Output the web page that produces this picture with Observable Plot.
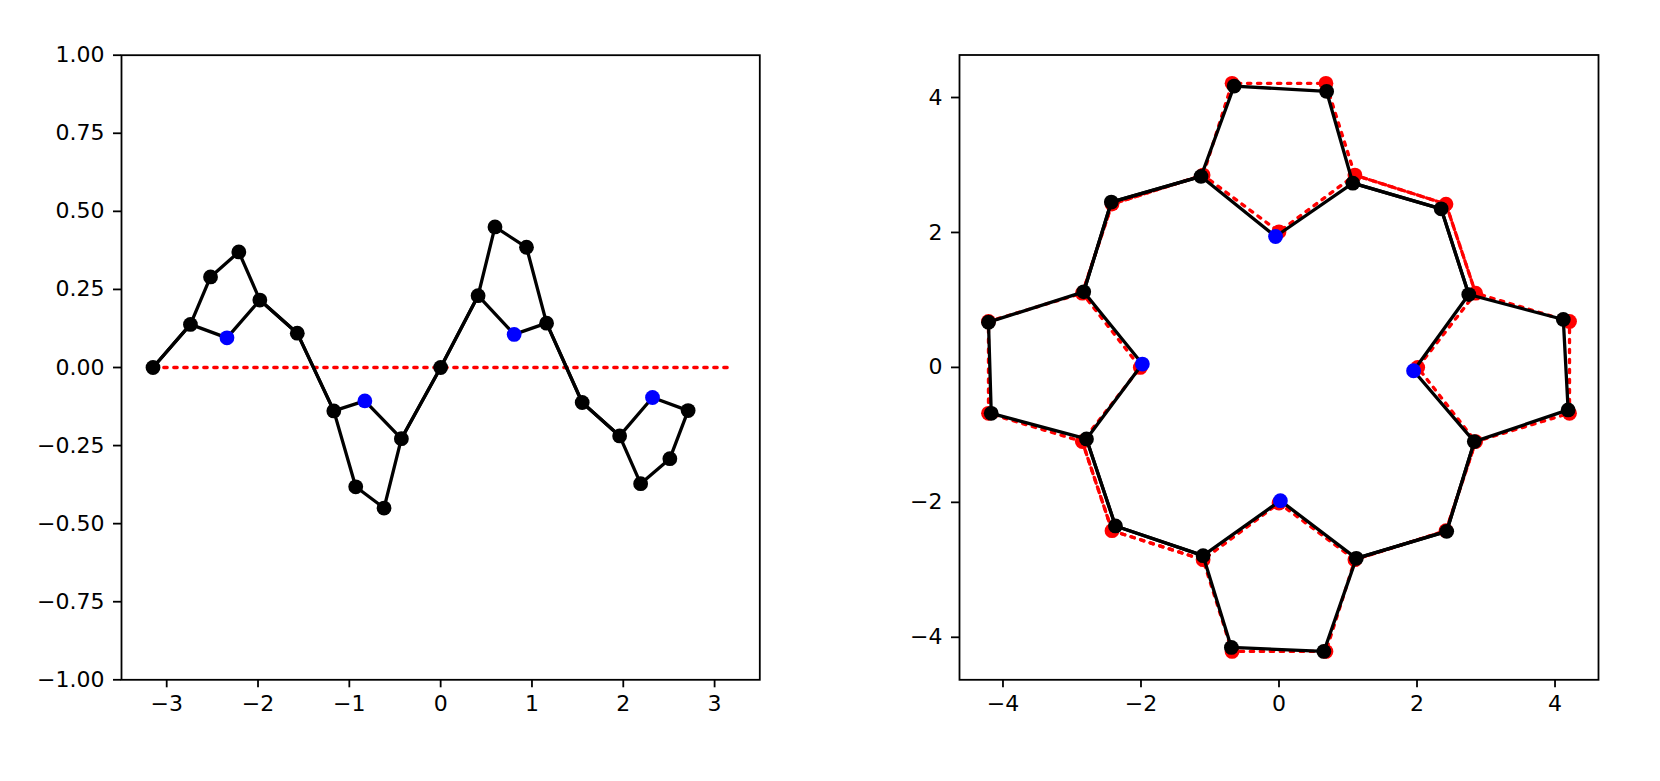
<!DOCTYPE html>
<html>
<head>
<meta charset="utf-8">
<script src="https://cdn.jsdelivr.net/npm/d3@7"></script>
<script src="https://cdn.jsdelivr.net/npm/@observablehq/plot@0.6"></script>
<style>
  html, body { margin: 0; padding: 0; background: #ffffff; }
  #wrap { position: relative; width: 1660px; height: 781px; overflow: hidden; background: #fff; }
  #left, #right { position: absolute; top: 0; }
  #left { left: 0px; }
  #right { left: 830px; }
  svg { font-family: "DejaVu Sans", sans-serif; }
</style>
</head>
<body>
<div id="wrap"><div id="left"></div><div id="right"></div></div>
<script>
// ---------- Left panel data (angle vs displacement) ----------
// outer chain order per ring: meso, C-alpha, C-beta, C-beta, C-alpha
const leftOuterX = [-3.15, -2.74, -2.52, -2.21, -1.98, -1.57, -1.17, -0.93, -0.62, -0.43, 0.0, 0.41, 0.595, 0.94, 1.16, 1.55, 1.96, 2.19, 2.51, 2.71];
const leftOuterY = [0.0, 0.138, 0.29, 0.37, 0.216, 0.11, -0.139, -0.382, -0.45, -0.228, 0.0, 0.23, 0.45, 0.385, 0.142, -0.112, -0.219, -0.372, -0.292, -0.138];
const leftNX = [-2.34, -0.83, 0.805, 2.32];
const leftNY = [0.095, -0.107, 0.106, -0.096];
const leftRefX = [-3.1416, 3.1416];
const leftRefY = [0, 0];
const leftXTicks = [-3, -2, -1, 0, 1, 2, 3];
const leftYTicks = [-1, -0.75, -0.5, -0.25, 0, 0.25, 0.5, 0.75, 1];

// ---------- Right panel data (x, y positions) ----------
// reference (red)
const refOuterX = [-2.42, -1.10, -0.68, 0.68, 1.10,   2.42, 2.85, 4.21, 4.21, 2.85,   2.42, 1.10, 0.68, -0.68, -1.10,   -2.42, -2.85, -4.21, -4.21, -2.85];
const refOuterY = [-2.42, -2.85, -4.21, -4.21, -2.85,  -2.42, -1.10, -0.68, 0.68, 1.10,   2.42, 2.85, 4.21, 4.21, 2.85,   2.42, 1.10, 0.68, -0.68, -1.10];
const refNX = [0.0, 2.01, 0.0, -2.01];
const refNY = [-2.01, 0.0, 2.01, 0.0];
// deformed (black) and nitrogens (blue)
const defOuterX = [-2.37, -1.10, -0.69, 0.65, 1.12,   2.43, 2.83, 4.19, 4.12, 2.75,   2.35, 1.07, 0.69, -0.65, -1.13,   -2.43, -2.83, -4.21, -4.17, -2.79];
const defOuterY = [-2.35, -2.79, -4.15, -4.21, -2.83,  -2.43, -1.10, -0.63, 0.71, 1.08,   2.35, 2.73, 4.09, 4.17, 2.83,   2.45, 1.12, 0.67, -0.68, -1.06];
const defNX = [0.02, 1.95, -0.05, -1.98];
const defNY = [-1.975, -0.05, 1.94, 0.05];
const rightTicks = [-4, -2, 0, 2, 4];

// ---------- helpers ----------
function pts(xs, ys) { return xs.map((x, i) => ({x, y: ys[i]})); }
function innerPath(outer, n, closed) {
  const p = [];
  for (let k = 0; k < n.length; k++) {
    p.push(outer[5 * k], outer[5 * k + 1], n[k], outer[5 * k + 4]);
  }
  if (closed) p.push(outer[0]);
  return p;
}
function outerPath(outer, closed) {
  return closed ? outer.concat([outer[0]]) : outer.slice();
}

const LW = 3.3, R = 7.4, DASH = "3.4,6.6";
const fmtInt = d3.format("d");
const fmt2 = d3.format(".2f");

function axes(xTicks, yTicks, xFmt, yFmt) {
  return [
    Plot.axisX({ticks: xTicks, tickFormat: xFmt, tickSize: 8, tickPadding: 8, strokeWidth: 1.8, label: null}),
    Plot.axisY({ticks: yTicks, tickFormat: yFmt, tickSize: 8, tickPadding: 9, strokeWidth: 1.8, label: null}),
    Plot.frame({stroke: "black", strokeWidth: 1.8})
  ];
}

const style = {fontSize: "22px", fontFamily: "'DejaVu Sans', sans-serif", color: "black", background: "white", overflow: "visible"};

// ---------- Left plot ----------
const lo = pts(leftOuterX, leftOuterY);
const ln = pts(leftNX, leftNY);
const leftPlot = Plot.plot({
  width: 830, height: 781,
  marginLeft: 121, marginRight: 70.7, marginTop: 54.7, marginBottom: 101.7,
  x: {domain: [-3.495, 3.495]},
  y: {domain: [-1, 1]},
  style,
  marks: [
    Plot.line(pts(leftRefX, leftRefY), {x: "x", y: "y", stroke: "red", strokeWidth: LW, strokeDasharray: DASH}),
    Plot.line(outerPath(lo, false), {x: "x", y: "y", stroke: "black", strokeWidth: LW, strokeLinejoin: "round"}),
    Plot.line(innerPath(lo, ln, false), {x: "x", y: "y", stroke: "black", strokeWidth: LW, strokeLinejoin: "round"}),
    Plot.dot(lo, {x: "x", y: "y", r: R, fill: "black", stroke: "none"}),
    Plot.dot(ln, {x: "x", y: "y", r: R, fill: "blue", stroke: "none"}),
    ...axes(leftXTicks, leftYTicks, fmtInt, fmt2)
  ]
});
document.getElementById("left").appendChild(leftPlot);

// ---------- Right plot ----------
const ro = pts(refOuterX, refOuterY);
const rn = pts(refNX, refNY);
const dO = pts(defOuterX, defOuterY);
const dn = pts(defNX, defNY);
const rightPlot = Plot.plot({
  width: 830, height: 781,
  marginLeft: 129, marginRight: 62, marginTop: 54.5, marginBottom: 101.7,
  x: {domain: [-4.63, 4.63]},
  y: {domain: [-4.63, 4.63]},
  style,
  marks: [
    Plot.line(outerPath(ro, true), {x: "x", y: "y", stroke: "red", strokeWidth: LW, strokeDasharray: DASH}),
    Plot.line(innerPath(ro, rn, true), {x: "x", y: "y", stroke: "red", strokeWidth: LW, strokeDasharray: DASH}),
    Plot.dot(ro.concat(rn), {x: "x", y: "y", r: R, fill: "red", stroke: "none"}),
    Plot.line(outerPath(dO, true), {x: "x", y: "y", stroke: "black", strokeWidth: LW, strokeLinejoin: "round"}),
    Plot.line(innerPath(dO, dn, true), {x: "x", y: "y", stroke: "black", strokeWidth: LW, strokeLinejoin: "round"}),
    Plot.dot(dO, {x: "x", y: "y", r: R, fill: "black", stroke: "none"}),
    Plot.dot(dn, {x: "x", y: "y", r: R, fill: "blue", stroke: "none"}),
    ...axes(rightTicks, rightTicks, fmtInt, fmtInt)
  ]
});
document.getElementById("right").appendChild(rightPlot);
</script>
</body>
</html>
